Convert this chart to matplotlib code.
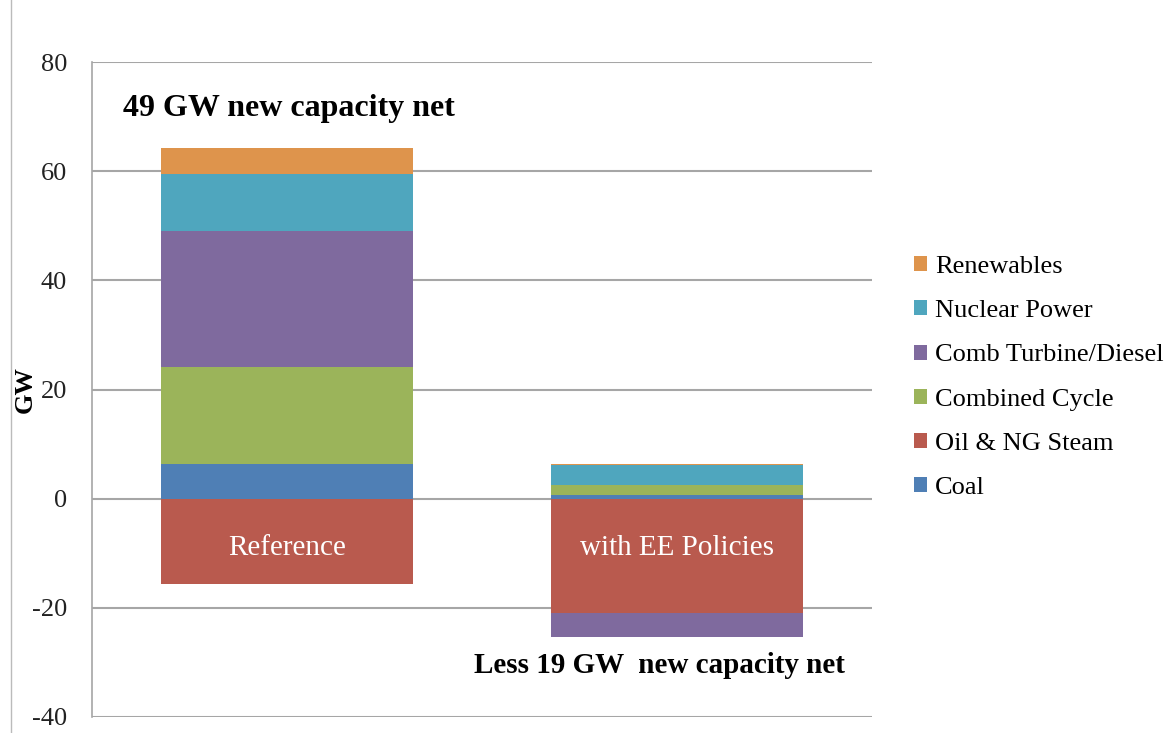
import numpy as np
import matplotlib
matplotlib.use("Agg")
import matplotlib.pyplot as plt
from matplotlib.patches import Patch
from matplotlib.lines import Line2D

plt.rcParams['font.family'] = ['Liberation Serif', 'DejaVu Serif']
plt.rcParams['axes.unicode_minus'] = False

# data (GW)
scenarios = ["Reference", "with EE Policies"]
series = ["Coal", "Oil & NG Steam", "Combined Cycle", "Comb Turbine/Diesel",
          "Nuclear Power", "Renewables"]
coal = [6.4, 0.7]
oil_ng = [-15.7, -21.0]
combined = [17.8, 1.8]
comb_turbine = [24.8, -4.3]
nuclear = [10.5, 3.7]
renewables = [4.7, 0.2]
colors = ["#4F7FB5", "#B95A4E", "#9BB45A", "#7F6A9E", "#4FA6BE", "#DE944C"]

values = [coal, oil_ng, combined, comb_turbine, nuclear, renewables]

fig = plt.figure(figsize=(11.70, 7.33), dpi=100)
ax = fig.add_axes([0.0786, 0.022, 0.667, 0.893])

x = np.arange(len(scenarios))
pos_base = np.zeros(len(scenarios))
neg_base = np.zeros(len(scenarios))
for name, vals, c in zip(series, values, colors):
    vals = np.array(vals)
    base = np.where(vals >= 0, pos_base, neg_base)
    ax.bar(x, vals, 0.645, bottom=base, color=c, zorder=3)
    pos_base += np.where(vals >= 0, vals, 0)
    neg_base += np.where(vals < 0, vals, 0)

ax.set_xlim(-0.5, 1.5)
ax.set_ylim(-40, 80)
ax.set_yticks(np.arange(-40, 81, 20))
ax.tick_params(axis='y', length=0, pad=18, labelsize=19, colors="#222222")
ax.set_xticks([])
ax.yaxis.grid(True, color="#A6A6A6", linewidth=1.5, zorder=0)
for s in ["top", "right", "bottom"]:
    ax.spines[s].set_visible(False)
ax.spines["left"].set_color("#A6A6A6")
ax.spines["left"].set_linewidth(1.2)
ax.set_ylabel("GW", fontsize=19, fontweight="bold")
ax.yaxis.set_label_coords(-0.071, 0.50)

for xi, name in zip(x, scenarios):
    ax.text(xi, -9.0, name, color="white", fontsize=21, ha="center", va="center", zorder=4)

ax.text(-0.42, 71.5, "49 GW new capacity net", fontsize=23, fontweight="bold",
        ha="left", va="center")
ax.text(1.43, -30.6, "Less 19 GW  new capacity net", fontsize=21, fontweight="bold",
        ha="right", va="center")

handles = [Patch(facecolor=c, edgecolor="none") for c in colors][::-1]
labels = series[::-1]
leg = fig.legend(handles, labels, loc="center left", bbox_to_anchor=(0.781, 0.485),
                 frameon=False, fontsize=19, handlelength=0.5, handleheight=0.5,
                 handletextpad=0.3, labelspacing=0.84, borderpad=0, borderaxespad=0)

fig.add_artist(Line2D([0.009, 0.009], [0.0, 1.0], color="#BBBBBB", linewidth=1))

fig.savefig("out.png", dpi=100)
